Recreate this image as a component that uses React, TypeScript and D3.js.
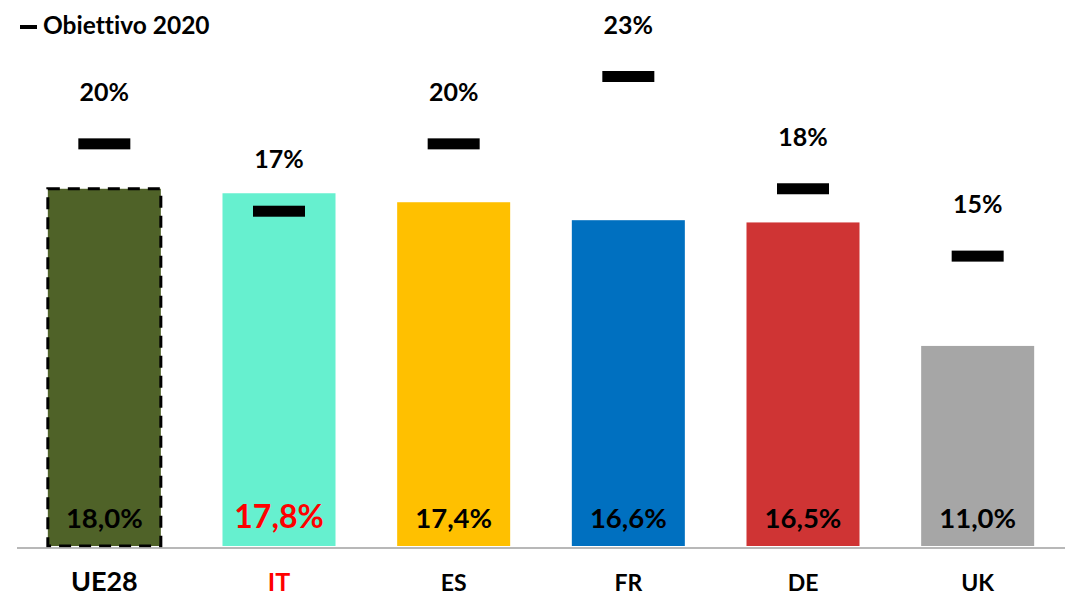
import { useEffect, useRef } from 'react';
import * as d3 from 'd3';

const countries = ['UE28', 'IT', 'ES', 'FR', 'DE', 'UK'];
const shares = [18.0, 17.8, 17.4, 16.6, 16.5, 11.0];
const targets = [20, 17, 20, 23, 18, 15];
const barColors = ['#4f6228', '#66f0cf', '#ffc000', '#0070c0', '#cf3434', '#a6a6a6'];
const legendLabel = 'Obiettivo 2020';

const fmt = (v: number) => v.toFixed(1).replace('.', ',') + '%';

export default function App() {
  const svgRef = useRef<SVGSVGElement>(null);

  useEffect(() => {
    const width = 1076;
    const height = 607;
    const font = 'Lato, "Open Sans", sans-serif';

    d3.select(svgRef.current).selectAll('*').remove();
    const svg = d3.select(svgRef.current)
      .attr('width', width)
      .attr('height', height)
      .style('font-family', font)
      .style('font-variant-ligatures', 'none');

    const x = d3.scaleBand()
      .domain(countries)
      .range([17, 1065])
      .paddingInner(0.353)
      .paddingOuter(0.1765);

    // axis starts at 2%, not zero
    const y = d3.scaleLinear()
      .domain([2, 23])
      .range([548, 76.5]);

    const rows = countries.map((c, i) => ({ c, v: shares[i], t: targets[i], color: barColors[i], i }));

    // bars
    svg.selectAll('rect.bar')
      .data(rows)
      .join('rect')
      .attr('class', 'bar')
      .attr('x', d => x(d.c)!)
      .attr('width', x.bandwidth())
      .attr('y', d => y(d.v))
      .attr('height', d => y(2) - 2 - y(d.v))
      .attr('fill', d => d.color)
      .attr('stroke', d => (d.i === 0 ? '#000' : 'none'))
      .attr('stroke-width', 3)
      .attr('stroke-dasharray', '12,8');

    // axis line
    svg.append('line')
      .attr('x1', x.range()[0])
      .attr('x2', x.range()[1])
      .attr('y1', y(2))
      .attr('y2', y(2))
      .attr('stroke', '#a0a0a0')
      .attr('stroke-width', 1.5);

    // value labels inside bars
    svg.selectAll('text.value')
      .data(rows)
      .join('text')
      .attr('class', 'value')
      .attr('x', d => x(d.c)! + x.bandwidth() / 2)
      .attr('y', 528)
      .attr('text-anchor', 'middle')
      .attr('font-weight', 'bold')
      .attr('font-size', d => (d.c === 'IT' ? 32 : 27.5))
      .attr('fill', d => (d.c === 'IT' ? '#ff0000' : '#000'))
      .text(d => fmt(d.v));

    // target markers
    svg.selectAll('rect.target')
      .data(rows)
      .join('rect')
      .attr('class', 'target')
      .attr('x', d => x(d.c)! + x.bandwidth() / 2 - 26)
      .attr('y', d => y(d.t) - 5.5)
      .attr('width', 52)
      .attr('height', 11)
      .attr('fill', '#000');

    svg.selectAll('text.target')
      .data(rows)
      .join('text')
      .attr('class', 'target')
      .attr('x', d => x(d.c)! + x.bandwidth() / 2)
      .attr('y', d => y(d.t) - 43)
      .attr('text-anchor', 'middle')
      .attr('font-weight', 'bold')
      .attr('font-size', 25)
      .attr('fill', '#000')
      .text(d => `${d.t}%`);

    // category labels
    svg.selectAll('text.cat')
      .data(rows)
      .join('text')
      .attr('class', 'cat')
      .attr('x', d => x(d.c)! + x.bandwidth() / 2)
      .attr('y', 591)
      .attr('text-anchor', 'middle')
      .attr('font-weight', 'bold')
      .attr('font-size', d => (d.c === 'UE28' ? 27 : d.c === 'IT' ? 25 : 23))
      .attr('fill', d => (d.c === 'IT' ? '#ff0000' : '#000'))
      .text(d => d.c);

    // legend
    svg.append('rect')
      .attr('x', 20)
      .attr('y', 25)
      .attr('width', 17)
      .attr('height', 4)
      .attr('fill', '#000');
    svg.append('text')
      .attr('x', 43)
      .attr('y', 34)
      .attr('font-weight', 'bold')
      .attr('font-size', 24.5)
      .attr('fill', '#000')
      .text(legendLabel);
  }, []);

  return (
    <svg ref={svgRef} style={{ position: 'absolute', left: 0, top: 0, display: 'block' }}></svg>
  );
}
